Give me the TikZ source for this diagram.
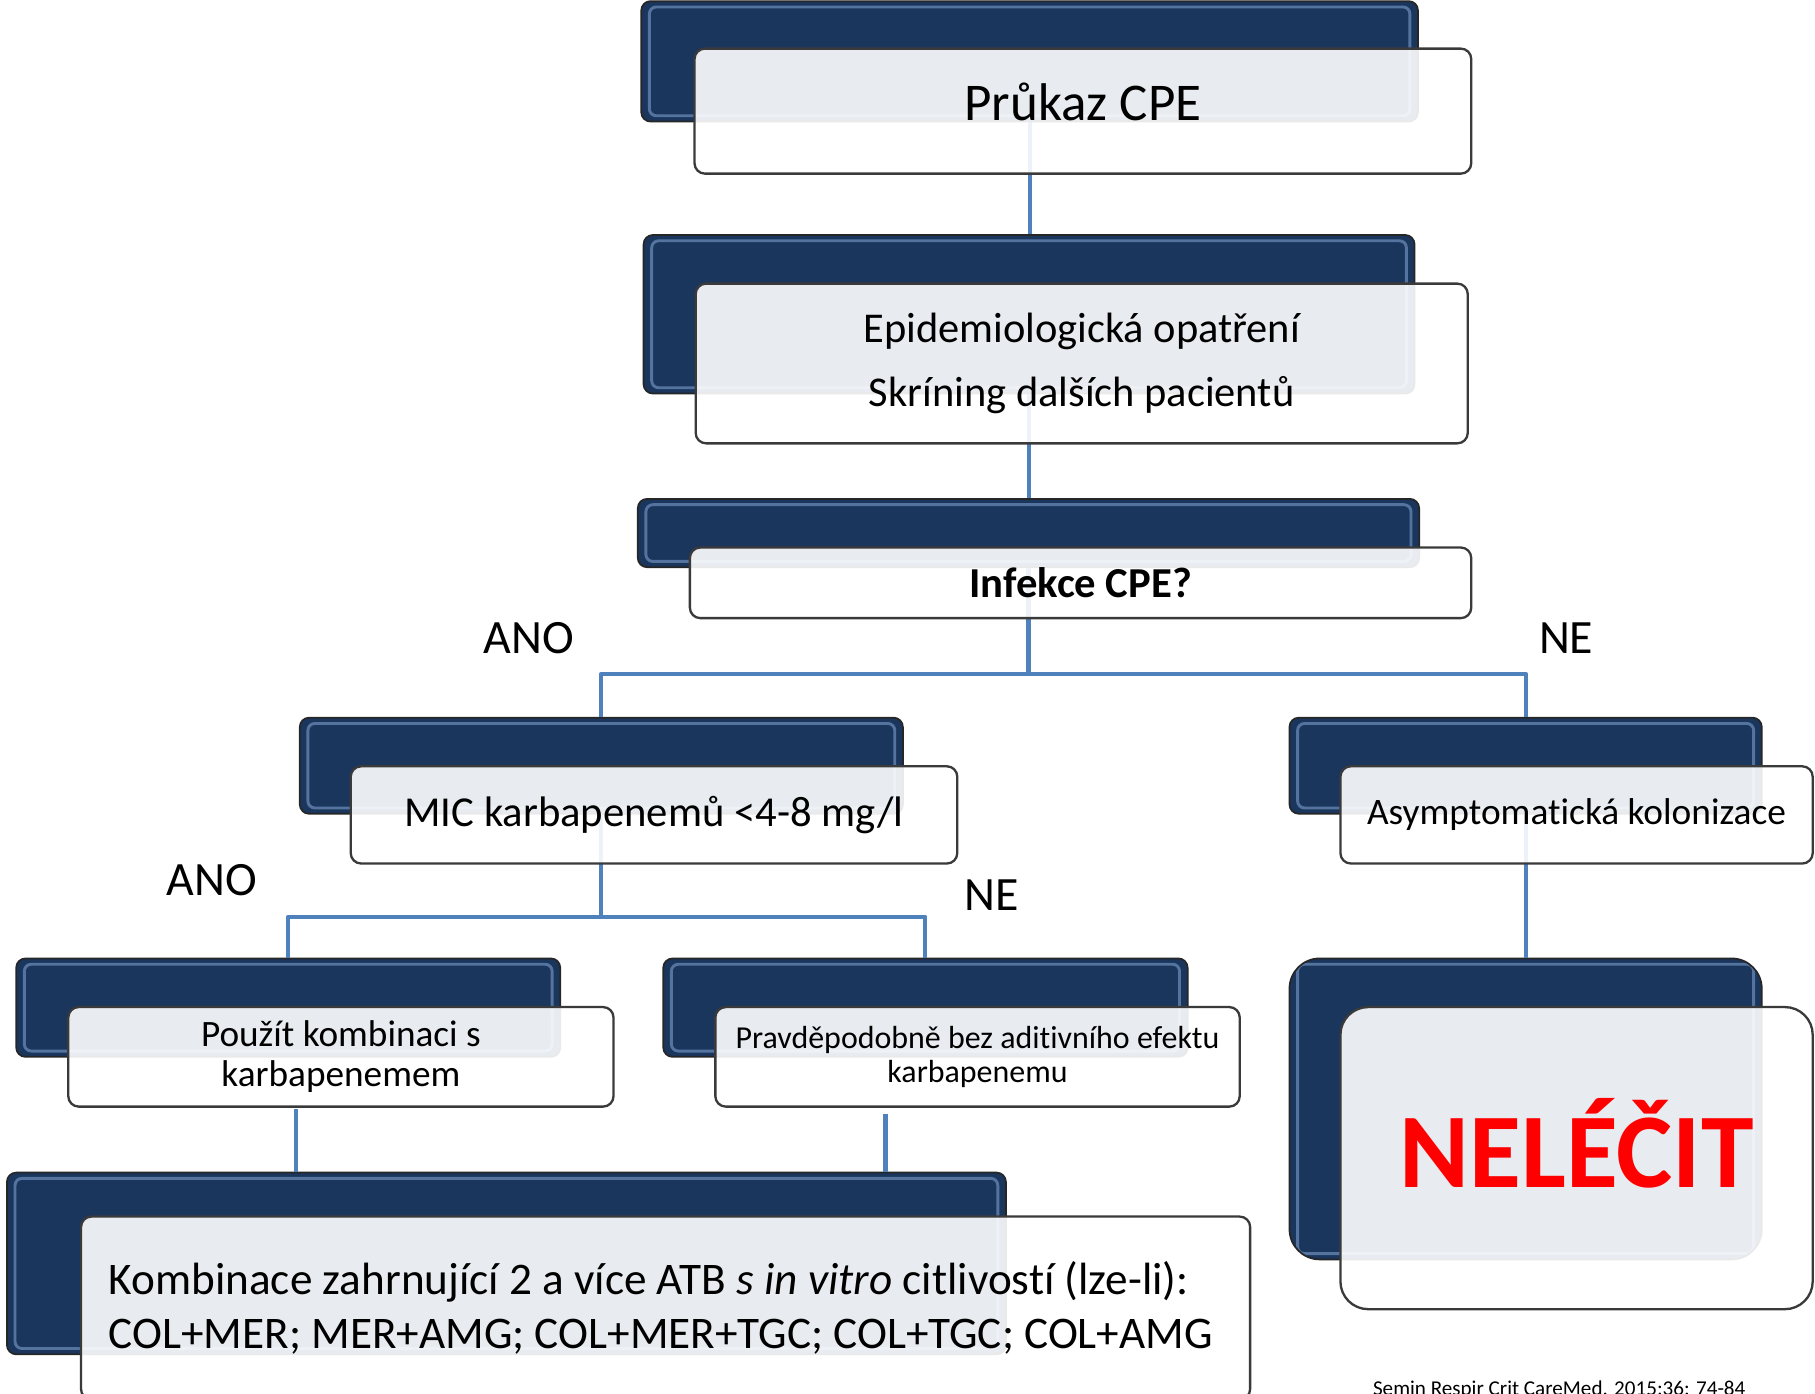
\documentclass[tikz,border=0pt]{standalone}
\usepackage{fontspec}
\setmainfont{Carlito}[Ligatures=CommonOff]
\definecolor{navy}{HTML}{1B365D}
\definecolor{linkblue}{HTML}{4F81BD}
\definecolor{gloss}{HTML}{8DB3E2}
\definecolor{rim}{HTML}{3A3A3A}
\begin{document}
\begin{tikzpicture}[x=1bp,y=-1bp,line join=round,
  backbox/.style={draw=black!85,line width=1.5bp,fill=navy,rounded corners=8bp,inner sep=0pt,
    path picture={\draw [gloss,opacity=.5,line width=2.5bp,rounded corners=6bp]
      ([xshift=7bp,yshift=-5bp]path picture bounding box.north west) rectangle
      ([xshift=-7bp,yshift=5bp]path picture bounding box.south east);}},
  frontbox/.style={draw=rim,line width=2bp,fill=white,fill opacity=.9,text opacity=1,
    rounded corners=9bp,inner sep=0pt,align=center,execute at begin node={\spaceskip=0pt\relax}},
  link/.style={linkblue,line width=3.5bp},
  branch/.style={inner sep=0pt,font=\fontsize{41.5}{48}\selectfont},
]
\useasboundingbox (0,0) rectangle (1568,1204);
%%
\node (back_0) at (889.5,53) [backbox,minimum width=671bp,minimum height=104bp] {};
  \node (back_1) at (889,271.5) [backbox,minimum width=666bp,minimum height=137bp] {};
  \node (back_2) at (888.5,460.5) [backbox,minimum width=675bp,minimum height=59bp] {};
  \node (back_3) at (519.5,661.5) [backbox,minimum width=521bp,minimum height=83bp] {};
  \node (back_4) at (1318,661.5) [backbox,minimum width=408bp,minimum height=83bp] {};
  \node (back_5) at (249,870.5) [backbox,minimum width=470bp,minimum height=85bp] {};
  \node (back_6) at (799.5,870.5) [backbox,minimum width=453bp,minimum height=85bp] {};
  \node (back_7) at (437.5,1091.5) [backbox,minimum width=863bp,minimum height=157bp] {};
  \node (back_8) at (1318,958) [backbox,rounded corners=26bp,minimum width=408bp,minimum height=260bp] {};
%
\coordinate (fork_0) at (888.5,582);
  \coordinate (fork_1) at (519.5,792);
  \coordinate (tap_0) at (256,958);
  \coordinate (tap_1) at (765,962);
  \draw [link] (back_0.south) -- (back_0.south |- back_1.north);
  \draw [link] (back_1.south) -- (back_1.south |- back_2.north);
  \draw [link] (back_2.south) -- (fork_0) -| (back_3.north);
  \draw [link] (fork_0) -| (back_4.north);
  \draw [link] (back_3.south) -- (fork_1) -| (back_5.north);
  \draw [link] (fork_1) -| (back_6.north);
  \draw [link] (back_4.south) -- (back_8.north);
  \draw [link] (tap_0) -- (tap_0 |- back_7.north);
  \draw [link] (tap_1) -- (tap_1 |- back_7.north);
%
\node (node_0) at (935.5,96) [frontbox,minimum width=671bp,minimum height=108bp,text depth=16bp,font=\fontsize{46}{52}\selectfont] {Průkaz CPE};
  \node (node_1) at (934.5,314) [frontbox,minimum width=667bp,minimum height=138bp,font=\fontsize{36.8}{56}\selectfont] {Epidemiologická opatření\\Skríning dalších pacientů};
  \node (node_2) at (933.5,503.5) [frontbox,minimum width=675bp,minimum height=61bp,font=\fontsize{37}{42}\selectfont\bfseries] {Infekce CPE?};
  \node (node_3) at (565,704) [frontbox,minimum width=524bp,minimum height=84bp,font=\fontsize{37}{42}\selectfont] {MIC karbapenemů <4-8 mg/l};
  \node (node_4) at (1362,704) [frontbox,minimum width=408bp,minimum height=84bp,font=\fontsize{32.4}{38}\selectfont] {Asymptomatická kolonizace};
  \node (node_5) at (294.5,913) [frontbox,minimum width=471bp,minimum height=86bp,font=\fontsize{32.3}{35}\selectfont] {Použít kombinaci s\\karbapenemem};
  \node (node_6) at (844.5,913) [frontbox,minimum width=453bp,minimum height=86bp,font=\fontsize{27.7}{30}\selectfont] {Pravděpodobně bez aditivního efektu\\karbapenemu};
  \node (node_7) at (575,1130) [frontbox,minimum width=1010bp,minimum height=158bp,text width=962bp,align=left,font=\fontsize{39.2}{47}\selectfont] {\mbox{Kombinace zahrnující 2 a více ATB \textit{s in vitro} citlivostí (lze-li):}\\\mbox{COL+MER; MER+AMG; COL+MER+TGC; COL+TGC; COL+AMG}};
  \node (node_8) at (1362,1000.5) [frontbox,rounded corners=24bp,minimum width=408bp,minimum height=261bp,text depth=26bp,text=red,font=\fontsize{92}{98}\selectfont\bfseries] {NELÉČIT};
%
\node (lbl_0) at (457,551) [branch] {ANO};
  \node (lbl_1) at (1353,551) [branch] {NE};
  \node (lbl_2) at (183,760) [branch] {ANO};
  \node (lbl_3) at (857,773) [branch] {NE};
  \node (cite) at (1347,1201) [inner sep=0pt,font=\fontsize{18.3}{20}\selectfont] {Semin Respir Crit CareMed. 2015;36: 74-84};
%
\end{tikzpicture}
\end{document}
